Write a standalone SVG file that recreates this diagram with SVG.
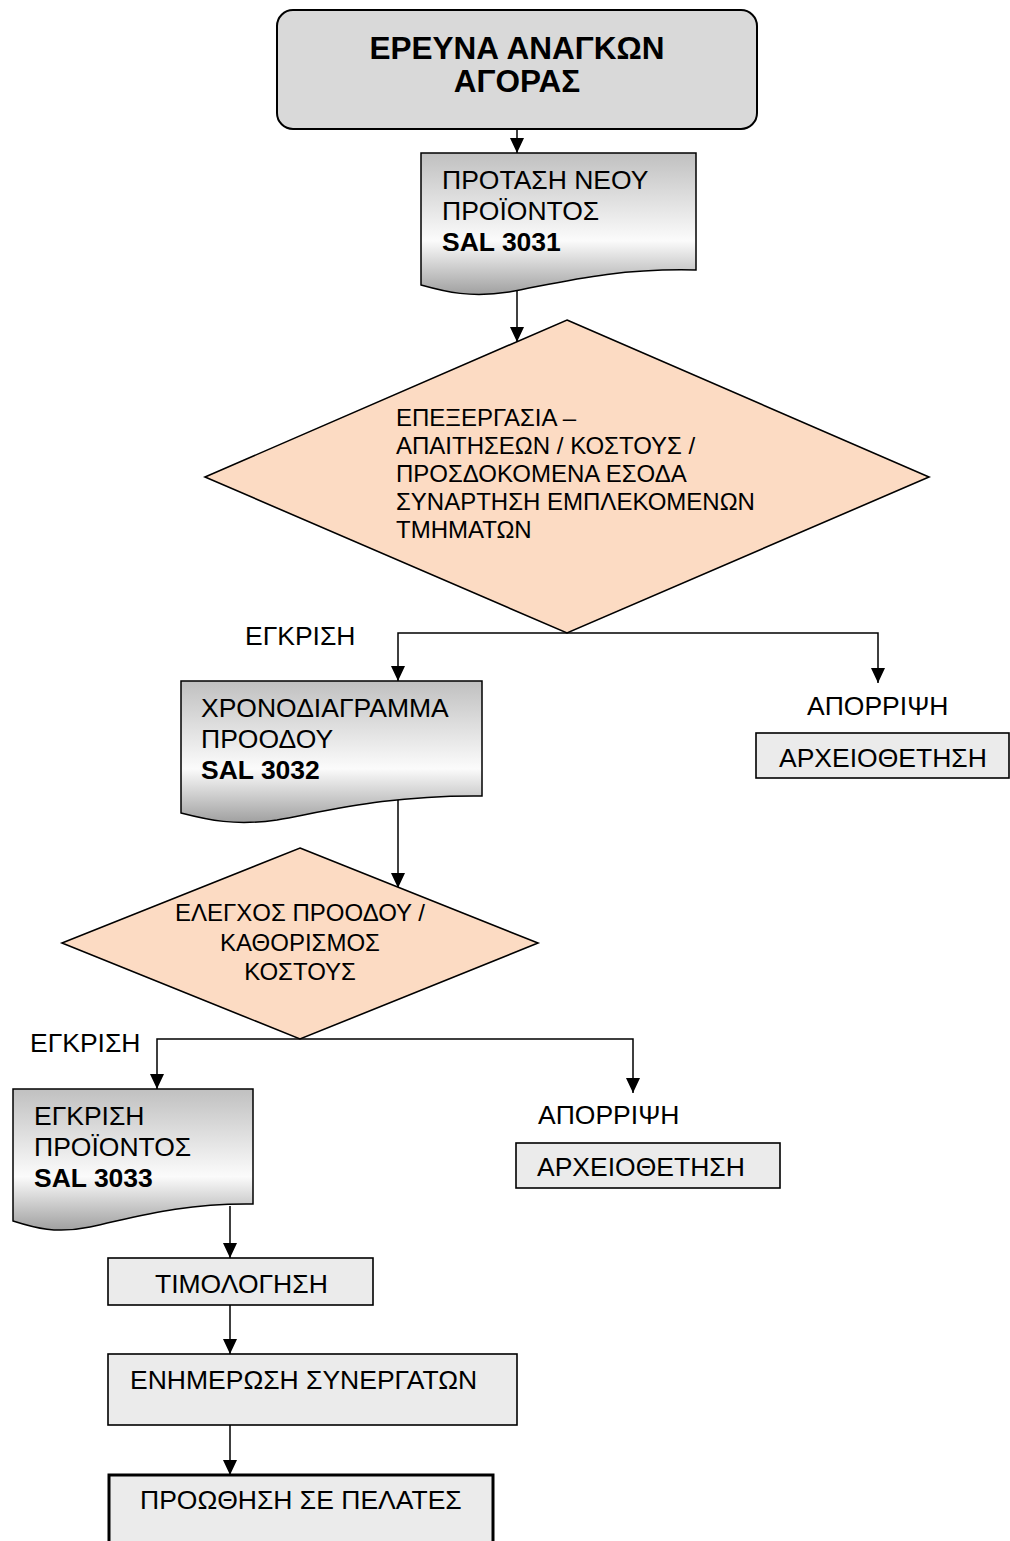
<svg xmlns="http://www.w3.org/2000/svg" width="1010" height="1541" viewBox="0 0 1010 1541">
  <defs>
    <linearGradient id="docFill" x1="0" y1="0" x2="0" y2="1">
      <stop offset="0" stop-color="#c0c0c0"/>
      <stop offset="0.62" stop-color="#fbfbfb"/>
      <stop offset="1" stop-color="#a0a0a0"/>
    </linearGradient>
    <marker id="arrow" markerUnits="userSpaceOnUse" markerWidth="15" markerHeight="14" refX="15" refY="7" orient="auto">
      <path d="M0,0 L15,7 L0,14 z" fill="#000"/>
    </marker>
  </defs>
  <style>
    text { font-family: "Liberation Sans", Arial, sans-serif; font-size: 26.5px; fill: #000; }
    .title { font-size: 31.5px; font-weight: bold; text-anchor: middle; }
    .b { font-weight: bold; }
    .dt { font-size: 24px; }
    .mid { text-anchor: middle; }
    .start { fill: #d9d9d9; stroke: #000; stroke-width: 2; }
    .doc { fill: url(#docFill); stroke: #000; stroke-width: 1.5; }
    .dec { fill: #fcdbc3; stroke: #000; stroke-width: 1.6; }
    .box { fill: #ebebeb; stroke: #000; stroke-width: 1.6; }
    .box-end { fill: #ebebeb; stroke: #000; stroke-width: 3; }
    .conn { fill: none; stroke: #000; stroke-width: 1.5; marker-end: url(#arrow); }
  </style>

  <rect width="1010" height="1541" fill="#fff"/>

  <!-- connectors -->
  <g id="connectors">
    <path class="conn" d="M517,129 V153"/>
    <path class="conn" d="M517,287 V342"/>
    <path class="conn" d="M567,633 H398 V681"/>
    <path class="conn" d="M567,633 H878 V683"/>
    <path class="conn" d="M398,796 V888"/>
    <path class="conn" d="M300,1039 H157 V1089"/>
    <path class="conn" d="M300,1039 H633 V1093"/>
    <path class="conn" d="M230,1206 V1258"/>
    <path class="conn" d="M230,1305 V1354"/>
    <path class="conn" d="M230,1425 V1475"/>
  </g>

  <!-- start: market needs research -->
  <g id="market-research">
    <rect class="start" x="277" y="10" width="480" height="119" rx="16" ry="16"/>
    <text class="title" x="517" y="59">ΕΡΕΥΝΑ ΑΝΑΓΚΩΝ</text>
    <text class="title" x="517" y="92">ΑΓΟΡΑΣ</text>
  </g>

  <!-- document: new product proposal -->
  <g id="proposal-doc">
    <path class="doc" d="M421,153 H696 V270 C611,268 559,283 509,292 C471,298 446,292 421,285 Z"/>
    <text x="442" y="189">ΠΡΟΤΑΣΗ ΝΕΟΥ</text>
    <text x="442" y="220">ΠΡΟΪΟΝΤΟΣ</text>
    <text class="b" x="442" y="251">SAL 3031</text>
  </g>

  <!-- decision: requirements / cost processing -->
  <g id="processing-decision">
    <polygon class="dec" points="567,320 929,477 567,633 205,477"/>
    <text class="dt" x="396" y="426">ΕΠΕΞΕΡΓΑΣΙΑ –</text>
    <text class="dt" x="396" y="454">ΑΠΑΙΤΗΣΕΩΝ / ΚΟΣΤΟΥΣ /</text>
    <text class="dt" x="396" y="482">ΠΡΟΣΔΟΚΟΜΕΝΑ ΕΣΟΔΑ</text>
    <text class="dt" x="396" y="510">ΣΥΝΑΡΤΗΣΗ ΕΜΠΛΕΚΟΜΕΝΩΝ</text>
    <text class="dt" x="396" y="538">ΤΜΗΜΑΤΩΝ</text>
  </g>

  <g id="approve-label-1">
    <text x="245" y="645">ΕΓΚΡΙΣΗ</text>
  </g>
  <g id="reject-label-1">
    <text x="807" y="715">ΑΠΟΡΡΙΨΗ</text>
  </g>

  <!-- archive after first rejection -->
  <g id="archive-1">
    <rect class="box" x="756" y="733" width="253" height="45"/>
    <text x="779" y="767">ΑΡΧΕΙΟΘΕΤΗΣΗ</text>
  </g>

  <!-- document: progress schedule -->
  <g id="schedule-doc">
    <path class="doc" d="M181,681 H482 V796 C389,795 332,810 277,820 C235,826 208,820 181,813 Z"/>
    <text x="201" y="717">ΧΡΟΝΟΔΙΑΓΡΑΜΜΑ</text>
    <text x="201" y="748">ΠΡΟΟΔΟΥ</text>
    <text class="b" x="201" y="779">SAL 3032</text>
  </g>

  <!-- decision: progress check / cost definition -->
  <g id="progress-decision">
    <polygon class="dec" points="300,848 538,943 300,1039 62,943"/>
    <text class="dt mid" x="300" y="921">ΕΛΕΓΧΟΣ ΠΡΟΟΔΟΥ /</text>
    <text class="dt mid" x="300" y="951">ΚΑΘΟΡΙΣΜΟΣ</text>
    <text class="dt mid" x="300" y="980">ΚΟΣΤΟΥΣ</text>
  </g>

  <g id="approve-label-2">
    <text x="30" y="1052">ΕΓΚΡΙΣΗ</text>
  </g>
  <g id="reject-label-2">
    <text x="538" y="1124">ΑΠΟΡΡΙΨΗ</text>
  </g>

  <!-- archive after second rejection -->
  <g id="archive-2">
    <rect class="box" x="516" y="1143" width="264" height="45"/>
    <text x="537" y="1176">ΑΡΧΕΙΟΘΕΤΗΣΗ</text>
  </g>

  <!-- document: product approval -->
  <g id="approval-doc">
    <path class="doc" d="M13,1089 H253 V1204 C179,1203 133,1218 90,1227 C56,1234 35,1228 13,1221 Z"/>
    <text x="34" y="1125">ΕΓΚΡΙΣΗ</text>
    <text x="34" y="1156">ΠΡΟΪΟΝΤΟΣ</text>
    <text class="b" x="34" y="1187">SAL 3033</text>
  </g>

  <!-- pricing -->
  <g id="pricing">
    <rect class="box" x="108" y="1258" width="265" height="47"/>
    <text x="155" y="1293">ΤΙΜΟΛΟΓΗΣΗ</text>
  </g>

  <!-- partner notification -->
  <g id="partner-notice">
    <rect class="box" x="108" y="1354" width="409" height="71"/>
    <text x="130" y="1389">ΕΝΗΜΕΡΩΣΗ ΣΥΝΕΡΓΑΤΩΝ</text>
  </g>

  <!-- promotion to customers -->
  <g id="customer-promotion">
    <rect class="box-end" x="109" y="1475" width="384" height="80"/>
    <text x="140" y="1509">ΠΡΟΩΘΗΣΗ ΣΕ ΠΕΛΑΤΕΣ</text>
  </g>
</svg>
